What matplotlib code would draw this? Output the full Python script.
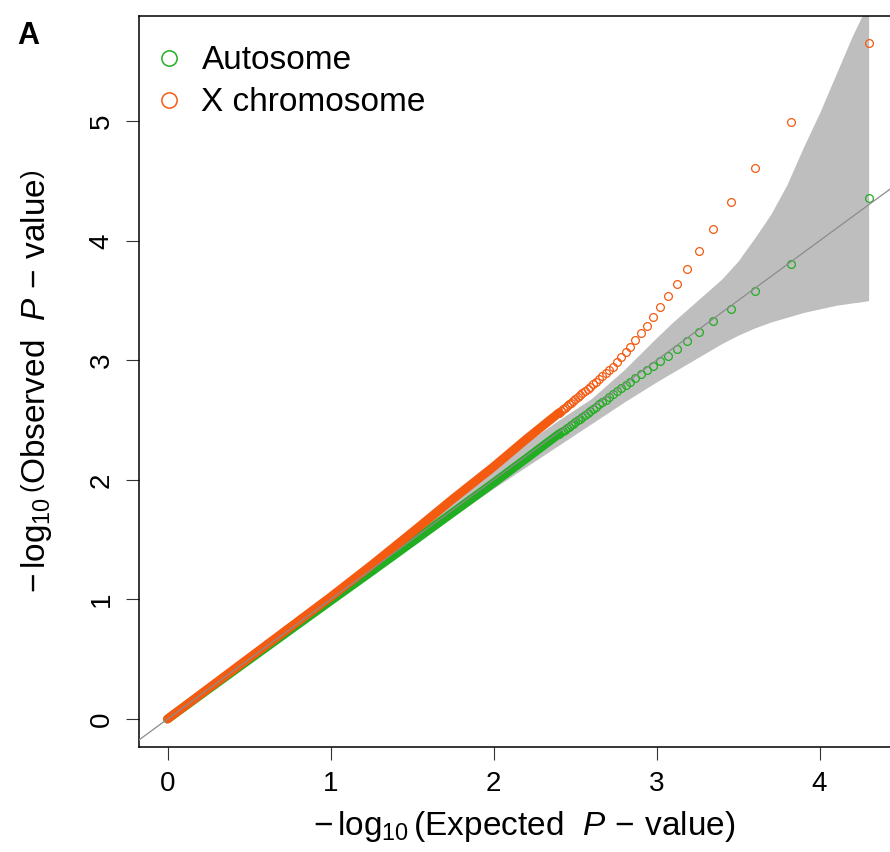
import matplotlib
matplotlib.use("Agg")
import matplotlib.pyplot as plt
from matplotlib.lines import Line2D

plt.rcParams['font.family'] = ['Liberation Sans', 'DejaVu Sans']
plt.rcParams['mathtext.fontset'] = 'custom'
plt.rcParams['mathtext.rm'] = 'Liberation Sans'
plt.rcParams['mathtext.it'] = 'Liberation Sans:italic'
plt.rcParams['mathtext.bf'] = 'Liberation Sans:bold'

# ---------------- data ----------------
series_names = ["Autosome", "X chromosome"]

# expected -log10 P of the sparse tail (ranks 1..40, n ~ 10000)
tail_expected = [4.301, 3.824, 3.602, 3.456, 3.347, 3.260, 3.187, 3.125, 3.071, 3.022,
                 2.979, 2.939, 2.903, 2.870, 2.839, 2.810, 2.783, 2.757, 2.733, 2.710,
                 2.688, 2.668, 2.648, 2.629, 2.611, 2.593, 2.577, 2.561, 2.545, 2.530,
                 2.516, 2.502, 2.488, 2.475, 2.462, 2.450, 2.438, 2.426, 2.415, 2.403]

auto_tail_observed = [4.360, 3.805, 3.579, 3.431, 3.325, 3.236, 3.160, 3.096, 3.040, 2.996,
                      2.954, 2.918, 2.884, 2.854, 2.823, 2.793, 2.766, 2.740, 2.716, 2.693,
                      2.671, 2.651, 2.631, 2.612, 2.594, 2.576, 2.560, 2.544, 2.528, 2.513,
                      2.499, 2.485, 2.471, 2.458, 2.445, 2.433, 2.421, 2.409, 2.398, 2.386]

x_tail_observed = [5.654, 4.993, 4.605, 4.324, 4.098, 3.916, 3.766, 3.640, 3.534, 3.442,
                   3.361, 3.289, 3.225, 3.166, 3.113, 3.068, 3.027, 2.985, 2.946, 2.918,
                   2.892, 2.868, 2.845, 2.823, 2.802, 2.781, 2.763, 2.745, 2.727, 2.710,
                   2.694, 2.678, 2.662, 2.647, 2.632, 2.618, 2.604, 2.590, 2.577, 2.563]

# dense body of the QQ curves (points overlap into a solid band)
body_expected = [0.0, 0.25, 0.5, 0.75, 1.0, 1.25, 1.5, 1.75, 2.0, 2.2, 2.403]
auto_body_observed = [0.0, 0.248, 0.495, 0.742, 0.988, 1.232, 1.479, 1.727, 1.975, 2.178, 2.386]
x_body_observed = [0.0, 0.255, 0.510, 0.765, 1.020, 1.285, 1.560, 1.840, 2.110, 2.340, 2.563]

# 95% confidence band
band_expected = [0.0, 0.5, 1.0, 1.5, 2.0, 2.2, 2.4, 2.6, 2.8, 3.0, 3.1, 3.2, 3.3, 3.4,
                 3.5, 3.6, 3.7, 3.8, 3.9, 4.0, 4.1, 4.2, 4.26, 4.301]
band_upper = [0.0, 0.51, 1.02, 1.55, 2.09, 2.31, 2.50, 2.68, 2.92, 3.19, 3.32, 3.44, 3.56, 3.68,
              3.83, 4.02, 4.22, 4.47, 4.78, 5.07, 5.39, 5.71, 5.88, 6.05]
band_lower = [0.0, 0.49, 0.98, 1.46, 1.93, 2.11, 2.29, 2.47, 2.65, 2.82, 2.90, 2.98, 3.06, 3.14,
              3.21, 3.27, 3.32, 3.36, 3.40, 3.43, 3.46, 3.48, 3.49, 3.50]

col_auto = '#22AE22'
col_x = '#F45A10'
col_band = '#BEBEBE'

# ---------------- figure ----------------
W, H = 890, 852
fig = plt.figure(figsize=(W / 100, H / 100), dpi=100)
L, R, T, B = 139, 897, 16, 747
ax = fig.add_axes([L / W, 1 - B / H, (R - L) / W, (B - T) / H])
ax.set_xlim(-0.175, 4.475)
ax.set_ylim(-0.234, 5.88)

ax.fill_between(band_expected, band_lower, band_upper, color=col_band, lw=0, zorder=1)

body_lw = 6.4
ax.plot(body_expected, auto_body_observed, color=col_auto, lw=body_lw,
        solid_capstyle='round', zorder=2)
ax.plot(tail_expected, auto_tail_observed, ls='none', marker='o', ms=5.6, mew=0.9,
        mfc='none', mec=col_auto, zorder=3)
ax.plot(body_expected, x_body_observed, color=col_x, lw=body_lw,
        solid_capstyle='round', zorder=4)
ax.plot(tail_expected, x_tail_observed, ls='none', marker='o', ms=5.6, mew=0.9,
        mfc='none', mec=col_x, zorder=5)

ax.axline((0, 0), slope=1, color='#8C8C8C', lw=0.9, zorder=6)

# axes styling
for s in ax.spines.values():
    s.set_linewidth(1.1)
    s.set_color('black')
ax.set_xticks([0, 1, 2, 3, 4])
ax.set_yticks([0, 1, 2, 3, 4, 5])
ax.set_xticklabels(['0', '1', '2', '3', '4'])
ax.set_yticklabels(['0', '1', '2', '3', '4', '5'], rotation=90, va='center')
ax.tick_params(axis='both', length=9.5, width=0.8, labelsize=20, pad=8, color='#333333')

fig.text(524 / W, 1 - 826 / H,
         r'$-\,\log_{10}\left(\mathrm{Expected}\ \ \mathit{P}\,-\,\mathrm{value}\right)$',
         ha='center', va='center', fontsize=24)
fig.text(37 / W, 1 - 381 / H,
         r'$-\,\log_{10}\left(\mathrm{Observed}\ \ \mathit{P}\,-\,\mathrm{value}\right)$',
         ha='center', va='center', fontsize=24, rotation=90)

fig.text(17 / W, 1 - 44 / H, 'A', fontsize=22, fontweight='bold', ha='left', va='baseline')

handles = [Line2D([], [], ls='none', marker='o', ms=11, mew=1.1, mfc='none', mec=col_auto),
           Line2D([], [], ls='none', marker='o', ms=11, mew=1.1, mfc='none', mec=col_x)]
ax.legend(handles, series_names, loc='upper left', bbox_to_anchor=(0.0178, 0.9597),
          frameon=False, fontsize=24, borderpad=0, borderaxespad=0,
          handlelength=1.0, handletextpad=0.47, labelspacing=0.33)

fig.savefig('out.png', dpi=100)
